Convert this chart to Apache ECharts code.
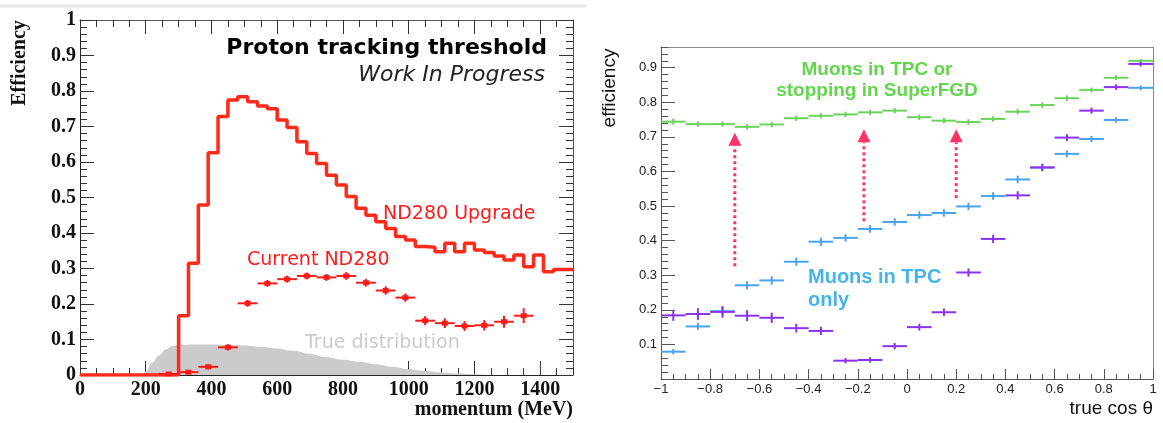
<!DOCTYPE html>
<html><head><meta charset="utf-8">
<script src="https://cdn.jsdelivr.net/npm/echarts@6/dist/echarts.min.js"></script>
<style>html,body{margin:0;padding:0;background:#fff}#c{width:1163px;height:423px}</style>
</head><body><div id="c"></div>
<script>
// ---------- Left panel: proton tracking threshold ----------
const upgradeEdges = [0,30,60,90,120,150,180,210,240,270,300,330,360,390,420,450,480,510,540,570,600,630,660,690,720,750,780,810,840,870,900,930,960,990,1020,1050,1080,1110,1140,1170,1200,1230,1260,1290,1320,1350,1380,1410,1440,1470,1500];
const upgradeEff = [0,0,0,0,0,0,0,0,0,0,
  0.167,0.315,0.479,0.626,0.728,0.775,0.784,0.770,0.758,0.750,
  0.718,0.697,0.657,0.624,0.596,0.563,0.535,0.503,0.470,0.450,
  0.432,0.413,0.390,0.380,0.362,0.360,0.347,0.371,0.347,0.371,
  0.352,0.345,0.335,0.324,0.338,0.305,0.338,0.291,0.297,0.297];
const currentMom = [270,330,390,450,510,570,630,690,750,810,870,930,990,1050,1110,1170,1230,1290,1350];
const currentEff = [0.003,0.008,0.023,0.078,0.202,0.258,0.270,0.279,0.275,0.279,0.260,0.238,0.218,0.153,0.146,0.138,0.140,0.150,0.167];
const currentErr = [0.002,0.003,0.005,0.006,0.007,0.007,0.007,0.007,0.007,0.008,0.008,0.009,0.009,0.010,0.011,0.011,0.012,0.014,0.018];
const currentBinWidth = 60;
const trueMom = [190,200,220,240,260,280,300,350,400,450,500,550,600,650,700,750,800,850,900,950,1000,1050,1100,1150,1200,1250,1500];
const trueVal = [0,0.010,0.035,0.055,0.072,0.081,0.085,0.086,0.086,0.085,0.083,0.079,0.075,0.068,0.059,0.050,0.043,0.037,0.030,0.023,0.016,0.011,0.007,0.004,0.002,0,0];

// ---------- Right panel: muon efficiency vs cos theta ----------
const cosBins = [-0.95,-0.85,-0.75,-0.65,-0.55,-0.45,-0.35,-0.25,-0.15,-0.05,0.05,0.15,0.25,0.35,0.45,0.55,0.65,0.75,0.85,0.95];
const cosBinWidth = 0.1;
const greenEff  = [0.744,0.737,0.737,0.729,0.736,0.754,0.761,0.765,0.771,0.776,0.757,0.747,0.743,0.752,0.773,0.792,0.812,0.836,0.871,0.920];
const greenErr  = [0.006,0.005,0.005,0.005,0.005,0.005,0.005,0.005,0.005,0.005,0.005,0.005,0.005,0.005,0.005,0.005,0.005,0.004,0.004,0.003];
const blueEff   = [0.079,0.152,0.196,0.271,0.285,0.339,0.397,0.408,0.434,0.454,0.474,0.480,0.499,0.529,0.577,0.611,0.651,0.694,0.749,0.842];
const blueErr   = [0.005,0.007,0.008,0.009,0.009,0.009,0.009,0.008,0.008,0.008,0.008,0.008,0.008,0.008,0.008,0.007,0.007,0.006,0.005,0.004];
const purpleEff = [0.184,0.188,0.194,0.183,0.177,0.147,0.139,0.053,0.055,0.095,0.150,0.193,0.308,0.405,0.531,0.612,0.698,0.776,0.844,0.911];
const purpleErr = [0.013,0.014,0.014,0.013,0.012,0.010,0.009,0.005,0.005,0.006,0.007,0.008,0.009,0.009,0.009,0.008,0.007,0.006,0.005,0.004];
const arrowCos  = [-0.7,-0.175,0.2];
const arrowFrom = [0.326,0.456,0.523];
const arrowTo   = [0.712,0.722,0.722];

const RED='#ff2a1a', GREEN='#6ad35a', BLUE='#4aa3ee', PURPLE='#8a33ee', ARROW='#ff3366';

const chart = echarts.init(document.getElementById('c'), null, {renderer:'canvas'});

function binRender(color, halfW, lw, marker){
  return function(params, api){
    const c=api.value(0), v=api.value(1), e=api.value(2);
    const a=api.coord([c-halfW, v]), b=api.coord([c+halfW, v]);
    const t=api.coord([c, v+e]), d=api.coord([c, v-e]);
    const ch=[
      {type:'line', shape:{x1:a[0],y1:a[1],x2:b[0],y2:b[1]}, style:{stroke:color,lineWidth:lw}},
      {type:'line', shape:{x1:t[0],y1:t[1]-1,x2:d[0],y2:d[1]+1}, style:{stroke:color,lineWidth:lw}}
    ];
    if(marker){ const m=api.coord([c,v]); ch.push({type:'rect', shape:{x:m[0]-3,y:m[1]-2.5,width:6,height:5}, style:{fill:color}}); }
    return {type:'group', children:ch};
  };
}

function arrowRender(params, api){
  const base=api.coord([api.value(0), api.value(1)]);
  const tip=api.coord([api.value(0), api.value(2)]);
  const hh=13, hw=6.5;
  return {type:'group', children:[
    {type:'line', shape:{x1:base[0],y1:base[1],x2:tip[0],y2:tip[1]+hh}, style:{stroke:ARROW,lineWidth:3,lineDash:[3,3]}},
    {type:'polygon', shape:{points:[[tip[0],tip[1]],[tip[0]-hw,tip[1]+hh],[tip[0]+hw,tip[1]+hh]]}, style:{fill:ARROW}}
  ]};
}

const serifLabel={fontFamily:'Liberation Serif',fontWeight:'bold',fontSize:20,color:'#111'};
const sansLabel={fontFamily:'Liberation Sans',fontSize:13,color:'#222'};
function ax(o){ return Object.assign({type:'value', splitLine:{show:false}, axisLine:{show:false,onZero:false}, axisTick:{show:false}, axisLabel:{show:false}}, o); }
const tickL={color:'#333',width:1};

const option={
  animation:false,
  backgroundColor:'#fff',
  grid:[
    {left:80, top:20, width:493, height:355},
    {left:661, top:47, width:492, height:332}
  ],
  xAxis:[
    ax({gridIndex:0, position:'bottom', min:0, max:1500, interval:200, axisLine:{show:true,onZero:false,lineStyle:{color:'#222'}}, axisTick:{show:true,inside:true,length:14,lineStyle:tickL}, axisLabel:Object.assign({show:true,margin:5,showMaxLabel:false,formatter:function(v){return String(Math.round(v));}},serifLabel)}),
    ax({gridIndex:0, position:'bottom', min:0, max:1500, interval:50, axisTick:{show:true,inside:true,length:7,lineStyle:tickL}}),
    ax({gridIndex:0, position:'top', min:0, max:1500, interval:200, axisLine:{show:true,onZero:false,lineStyle:{color:'#555'}}, axisTick:{show:true,inside:true,length:14,lineStyle:tickL}}),
    ax({gridIndex:0, position:'top', min:0, max:1500, interval:50, axisTick:{show:true,inside:true,length:7,lineStyle:tickL}}),
    ax({gridIndex:1, position:'bottom', min:-1, max:1, interval:0.2, axisLine:{show:true,onZero:false,lineStyle:{color:'#555'}}, axisTick:{show:true,inside:true,length:10,lineStyle:{color:'#555'}}, axisLabel:Object.assign({show:true,margin:4,formatter:function(v){const r=Math.round(v*10)/10; return (r<0?'\u2212':'')+String(Math.abs(r));}},sansLabel)}),
    ax({gridIndex:1, position:'bottom', min:-1, max:1, interval:0.05, axisTick:{show:true,inside:true,length:5,lineStyle:{color:'#555'}}}),
    ax({gridIndex:1, position:'top', min:-1, max:1, interval:0.2, axisLine:{show:true,onZero:false,lineStyle:{color:'#888'}}})
  ],
  yAxis:[
    ax({gridIndex:0, position:'left', min:0, max:1, interval:0.1, axisLine:{show:true,onZero:false,lineStyle:{color:'#222'}}, axisTick:{show:true,inside:true,length:14,lineStyle:tickL}, axisLabel:Object.assign({show:true,margin:4},serifLabel)}),
    ax({gridIndex:0, position:'left', min:0, max:1, interval:0.02, axisTick:{show:true,inside:true,length:7,lineStyle:tickL}}),
    ax({gridIndex:0, position:'right', min:0, max:1, interval:0.1, axisLine:{show:true,onZero:false,lineStyle:{color:'#555'}}, axisTick:{show:true,inside:true,length:14,lineStyle:tickL}}),
    ax({gridIndex:0, position:'right', min:0, max:1, interval:0.02, axisTick:{show:true,inside:true,length:7,lineStyle:tickL}}),
    ax({gridIndex:1, position:'left', min:0, max:0.96, interval:0.1, axisLine:{show:true,onZero:false,lineStyle:{color:'#555'}}, axisTick:{show:true,inside:true,length:14,lineStyle:{color:'#555'}}, axisLabel:Object.assign({show:true,margin:4,showMinLabel:false,showMaxLabel:false},sansLabel)}),
    ax({gridIndex:1, position:'left', min:0, max:0.96, interval:0.02, axisTick:{show:true,inside:true,length:7,lineStyle:{color:'#555'}}}),
    ax({gridIndex:1, position:'right', min:0, max:0.96, interval:0.1, axisLine:{show:true,onZero:false,lineStyle:{color:'#888'}}})
  ],
  series:[
    {type:'line', xAxisIndex:0, yAxisIndex:0, data:trueMom.map((m,i)=>[m,trueVal[i]]), smooth:0.4, smoothMonotone:'x', symbol:'none', lineStyle:{width:0}, areaStyle:{color:'#cbcbcb',opacity:1}, z:1},
    {type:'line', xAxisIndex:0, yAxisIndex:0, step:'end', data:upgradeEdges.map((e,i)=>[e, upgradeEff[Math.min(i, upgradeEff.length-1)]]), symbol:'none', lineStyle:{color:RED,width:3.5}, z:3},
    {type:'custom', xAxisIndex:0, yAxisIndex:0, data:currentMom.map((m,i)=>[m,currentEff[i],currentErr[i]]), renderItem:binRender('#ff1a1a', currentBinWidth/2, 2, true), z:4},
    {type:'custom', xAxisIndex:4, yAxisIndex:4, data:cosBins.map((c,i)=>[c,greenEff[i],greenErr[i]]), renderItem:binRender(GREEN, cosBinWidth/2, 2, false), z:3},
    {type:'custom', xAxisIndex:4, yAxisIndex:4, data:cosBins.map((c,i)=>[c,blueEff[i],blueErr[i]]), renderItem:binRender(BLUE, cosBinWidth/2, 2, false), z:3},
    {type:'custom', xAxisIndex:4, yAxisIndex:4, data:cosBins.map((c,i)=>[c,purpleEff[i],purpleErr[i]]), renderItem:binRender(PURPLE, cosBinWidth/2, 2, false), z:3},
    {type:'custom', xAxisIndex:4, yAxisIndex:4, data:arrowCos.map((c,i)=>[c,arrowFrom[i],arrowTo[i]]), renderItem:arrowRender, z:5}
  ],
  graphic:[
    {type:'line', shape:{x1:0,y1:6,x2:586,y2:6}, style:{stroke:'#e6e6e6',lineWidth:3}, silent:true},
    {type:'text', x:547, y:48, style:{text:'Proton tracking threshold', font:'bold 22px "DejaVu Sans"', fill:'#000', textAlign:'right', textVerticalAlign:'middle', verticalAlign:'middle'}},
    {type:'text', x:545, y:75, style:{text:'Work In Progress', font:'oblique 22px "DejaVu Sans"', fill:'#222', textAlign:'right', textVerticalAlign:'middle', verticalAlign:'middle'}},
    {type:'text', x:383, y:214, style:{text:'ND280 Upgrade', font:'19px "DejaVu Sans"', fill:'#ff1a1a', textAlign:'left', textVerticalAlign:'middle', verticalAlign:'middle'}},
    {type:'text', x:247, y:260, style:{text:'Current ND280', font:'19px "DejaVu Sans"', fill:'#ff1a1a', textAlign:'left', textVerticalAlign:'middle', verticalAlign:'middle'}},
    {type:'text', x:305, y:343, style:{text:'True distribution', font:'19px "DejaVu Sans"', fill:'#cbcbcb', textAlign:'left', textVerticalAlign:'middle', verticalAlign:'middle'}},
    {type:'text', x:20, y:63, rotation:Math.PI/2, style:{text:'Efficiency', font:'bold 20px "Liberation Serif"', fill:'#111', textAlign:'center', textVerticalAlign:'middle', verticalAlign:'middle'}},
    {type:'text', x:573, y:410, style:{text:'momentum (MeV)', font:'bold 20px "Liberation Serif"', fill:'#111', textAlign:'right', textVerticalAlign:'middle', verticalAlign:'middle'}},
    {type:'text', x:610, y:88, rotation:Math.PI/2, style:{text:'efficiency', font:'19px "Liberation Sans"', fill:'#111', textAlign:'center', textVerticalAlign:'middle', verticalAlign:'middle'}},
    {type:'text', x:1153, y:409, style:{text:'true cos \u03b8', font:'19px "Liberation Sans"', fill:'#111', textAlign:'right', textVerticalAlign:'middle', verticalAlign:'middle'}},
    {type:'text', x:877, y:70, style:{text:'Muons in TPC or', font:'bold 19px "Liberation Sans"', fill:'#62d64c', textAlign:'center', textVerticalAlign:'middle', verticalAlign:'middle'}},
    {type:'text', x:877, y:91, style:{text:'stopping in SuperFGD', font:'bold 19px "Liberation Sans"', fill:'#62d64c', textAlign:'center', textVerticalAlign:'middle', verticalAlign:'middle'}},
    {type:'text', x:808, y:277, style:{text:'Muons in TPC', font:'bold 20px "Liberation Sans"', fill:'#47b3ee', textAlign:'left', textVerticalAlign:'middle', verticalAlign:'middle'}},
    {type:'text', x:808, y:300, style:{text:'only', font:'bold 20px "Liberation Sans"', fill:'#47b3ee', textAlign:'left', textVerticalAlign:'middle', verticalAlign:'middle'}}
  ]
};
chart.setOption(option);
</script>
</body></html>
